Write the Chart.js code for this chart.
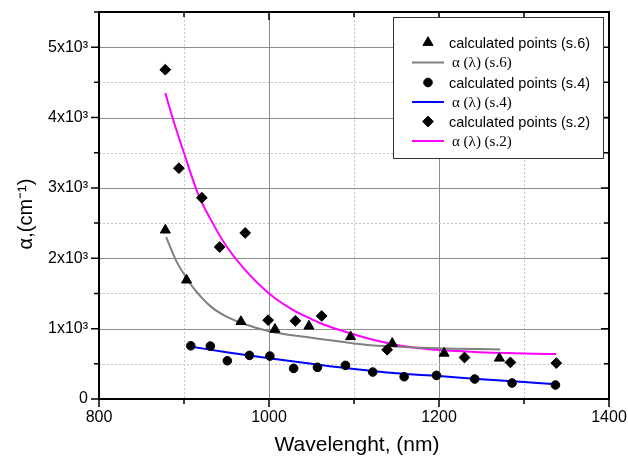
<!DOCTYPE html>
<html>
<head>
<meta charset="utf-8">
<script src="https://cdn.jsdelivr.net/npm/chart.js@4/dist/chart.umd.min.js"></script>
<style>
  html, body { margin: 0; padding: 0; background: #fff; }
  #wrap { width: 628px; height: 463px; }
</style>
</head>
<body>
<div id="wrap"><canvas id="c" width="628" height="463"></canvas></div>
<script>
// Calculated absorption points, sample 6 (triangles)
const s6X = [878, 903, 967, 1007, 1047, 1096, 1145, 1206, 1271];
const s6Y = [2400, 1690, 1100, 990, 1035, 885, 790, 650, 580];
// Calculated absorption points, sample 4 (circles)
const s4X = [908, 931, 951, 977, 1001, 1029, 1057, 1090, 1122, 1159, 1197, 1242, 1286, 1337];
const s4Y = [756, 752, 543, 620, 610, 435, 450, 478, 383, 317, 336, 284, 227, 199];
// Calculated absorption points, sample 2 (diamonds)
const s2X = [878, 894, 921, 942, 972, 999, 1031, 1062, 1139, 1230, 1284, 1338];
const s2Y = [4680, 3280, 2860, 2160, 2360, 1120, 1110, 1180, 700, 590, 520, 510];

// Fitted alpha(lambda) curves
const fit6X = [879, 891, 903, 911, 931, 950, 970, 1001, 1044, 1100, 1120, 1142, 1197, 1272];
const fit6Y = [2300, 1960, 1720, 1580, 1320, 1170, 1070, 960, 880, 790, 765, 750, 720, 705];
const fit4X = [909, 950, 1000, 1050, 1100, 1150, 1200, 1250, 1300, 1337];
const fit4Y = [742, 665, 580, 500, 425, 365, 326, 280, 240, 208];
const fit2X = [878, 887, 901, 917, 931, 950, 970, 1000, 1029, 1044, 1060, 1083, 1120, 1142, 1158, 1200, 1256, 1300, 1338];
const fit2Y = [4350, 3980, 3460, 2900, 2560, 2170, 1860, 1500, 1260, 1170, 1080, 980, 850, 790, 752, 695, 662, 648, 638];

// Axis ticks
const xTickLabels = [800, 1000, 1200, 1400];
const yTickLabels = ['0', '1x10³', '2x10³', '3x10³', '4x10³', '5x10³'];

const legendLabels = [
  'calculated points (s.6)', 'α (λ) (s.6)',
  'calculated points (s.4)', 'α (λ) (s.4)',
  'calculated points (s.2)', 'α (λ) (s.2)'
];

const pts = (xs, ys) => xs.map((x, i) => ({ x: x, y: ys[i] }));
const SANS = "'Liberation Sans', Arial, sans-serif";
const SERIF = "'Liberation Serif', 'Times New Roman', serif";

function pointSet(label, xs, ys, style, radius) {
  return {
    label: label, data: pts(xs, ys), showLine: false, order: 0,
    pointStyle: style, pointRadius: radius, pointHoverRadius: radius,
    backgroundColor: '#000', borderColor: '#000', pointBorderWidth: 1
  };
}
function lineSet(label, xs, ys, color) {
  return {
    label: label, data: pts(xs, ys), showLine: true, order: 1,
    borderColor: color, borderWidth: 2, pointRadius: 0, pointHoverRadius: 0,
    cubicInterpolationMode: 'monotone', fill: false
  };
}

const datasets = [
  pointSet(legendLabels[0], s6X, s6Y, 'triangle', 5.8),
  lineSet(legendLabels[1], fit6X, fit6Y, '#808080'),
  pointSet(legendLabels[2], s4X, s4Y, 'circle', 4.3),
  lineSet(legendLabels[3], fit4X, fit4Y, '#0000ff'),
  pointSet(legendLabels[4], s2X, s2Y, 'rectRot', 5.4),
  lineSet(legendLabels[5], fit2X, fit2Y, '#ff00ff')
];

// Grid, frame with inner/outer tick marks, axis titles and the boxed legend
const framePlugin = {
  id: 'framePlugin',
  beforeDatasetsDraw(chart) {
    const { ctx, chartArea: a, scales: { x, y } } = chart;
    ctx.save();
    ctx.lineWidth = 1;
    x.ticks.forEach(t => {
      if (t.value <= x.min || t.value >= x.max) return;
      const px = Math.round(x.getPixelForValue(t.value)) + 0.5;
      const major = t.value % 200 === 0;
      ctx.strokeStyle = major ? '#8c8c8c' : '#c4c4c4';
      ctx.setLineDash(major ? [] : [2, 2]);
      ctx.beginPath(); ctx.moveTo(px, a.top); ctx.lineTo(px, a.bottom); ctx.stroke();
    });
    y.ticks.forEach(t => {
      if (t.value <= y.min || t.value >= y.max) return;
      const py = Math.round(y.getPixelForValue(t.value)) + 0.5;
      const major = t.value % 1000 === 0;
      ctx.strokeStyle = major ? '#8c8c8c' : '#c4c4c4';
      ctx.setLineDash(major ? [] : [2, 2]);
      ctx.beginPath(); ctx.moveTo(a.left, py); ctx.lineTo(a.right, py); ctx.stroke();
    });
    ctx.restore();
  },
  afterDatasetsDraw(chart) {
    const { ctx, chartArea: a, scales: { x, y } } = chart;
    ctx.save();
    ctx.setLineDash([]);
    ctx.strokeStyle = '#000';
    ctx.lineWidth = 1.5;
    // tick marks: outward on bottom/left, inward on top/right
    x.ticks.forEach(t => {
      const px = x.getPixelForValue(t.value);
      const len = t.value % 200 === 0 ? 8 : 5;
      ctx.beginPath();
      ctx.moveTo(px, a.bottom); ctx.lineTo(px, a.bottom + len);
      ctx.moveTo(px, a.top); ctx.lineTo(px, a.top + len);
      ctx.stroke();
    });
    y.ticks.forEach(t => {
      const py = y.getPixelForValue(t.value);
      const len = t.value % 1000 === 0 ? 8 : 5;
      ctx.beginPath();
      ctx.moveTo(a.left, py); ctx.lineTo(a.left - len, py);
      ctx.moveTo(a.right, py); ctx.lineTo(a.right - len, py);
      ctx.stroke();
    });
    ctx.lineWidth = 2;
    ctx.strokeRect(a.left, a.top, a.right - a.left, a.bottom - a.top);

    // legend box
    const bx = 393, by = 17, bw = 210, bh = 141;
    ctx.fillStyle = '#fff';
    ctx.fillRect(bx, by, bw, bh);
    ctx.lineWidth = 1;
    ctx.strokeStyle = '#333';
    ctx.strokeRect(bx + 0.5, by + 0.5, bw, bh);
    const rowY = [42.5, 62.5, 82.5, 102, 121.5, 141];
    const mx = 428;
    ctx.textBaseline = 'middle';
    ctx.textAlign = 'left';
    datasets.forEach((ds, i) => {
      const ry = rowY[i];
      if (ds.showLine) {
        ctx.strokeStyle = ds.borderColor;
        ctx.lineWidth = 2;
        ctx.beginPath(); ctx.moveTo(412, ry); ctx.lineTo(444, ry); ctx.stroke();
        ctx.fillStyle = '#000';
        ctx.font = '15px ' + SERIF;
        ctx.fillText(ds.label, 452, ry + 1);
      } else {
        ctx.fillStyle = '#000';
        ctx.strokeStyle = '#000';
        ctx.lineWidth = 1;
        Chart.helpers.drawPoint(ctx, {
          pointStyle: ds.pointStyle, radius: ds.pointRadius, rotation: 0, borderWidth: 1
        }, mx, ry);
        ctx.font = '14.5px ' + SANS;
        ctx.fillText(ds.label, 449, ry + 1);
      }
    });

    // axis titles
    ctx.fillStyle = '#000';
    ctx.font = '21px ' + SANS;
    ctx.textAlign = 'center';
    ctx.textBaseline = 'alphabetic';
    ctx.fillText('Wavelenght, (nm)', 357, 451);
    ctx.save();
    ctx.translate(26, 214);
    ctx.rotate(-Math.PI / 2);
    ctx.font = '20px ' + SANS;
    ctx.textBaseline = 'middle';
    ctx.fillText('α,(cm⁻¹)', 0, 0);
    ctx.restore();
    ctx.restore();
  }
};

// Keep the plot area fixed by the layout padding alone
const noOverflow = s => { s.paddingTop = 0; s.paddingBottom = 0; s.paddingLeft = 0; s.paddingRight = 0; };

new Chart(document.getElementById('c'), {
  type: 'scatter',
  data: { datasets: datasets },
  options: {
    responsive: false,
    animation: false,
    events: [],
    layout: { padding: { left: 0, right: 19, top: 12, bottom: 0 } },
    plugins: { legend: { display: false }, tooltip: { enabled: false } },
    scales: {
      x: {
        type: 'linear', min: 800, max: 1400,
        grid: { display: false, drawTicks: false },
        border: { display: false },
        afterFit: s => { s.height = 64; noOverflow(s); },
        ticks: {
          stepSize: 100, autoSkip: false, maxRotation: 0, padding: 9,
          color: '#000', font: { family: SANS, size: 16 },
          callback: v => (xTickLabels.includes(v) ? String(v) : '')
        }
      },
      y: {
        type: 'linear', min: 0, max: 5500,
        grid: { display: false, drawTicks: false },
        border: { display: false },
        afterFit: s => { s.width = 99; noOverflow(s); },
        ticks: {
          stepSize: 500, autoSkip: false, padding: 11,
          color: '#000', font: { family: SANS, size: 16 },
          callback: v => (v % 1000 === 0 ? yTickLabels[v / 1000] : '')
        }
      }
    }
  },
  plugins: [framePlugin]
});
</script>
</body>
</html>
